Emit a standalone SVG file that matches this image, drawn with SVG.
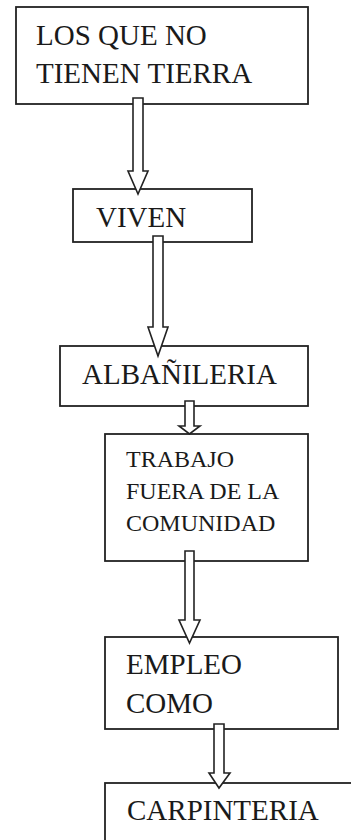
<svg xmlns="http://www.w3.org/2000/svg" width="351" height="840" viewBox="0 0 351 840">
<style>
.box{fill:#fff;stroke:#222;stroke-width:1.8}
.t{font-family:"Liberation Serif","Times New Roman",serif;font-size:29px;fill:#1a1a1a}
.s{font-size:24px}
.arr{fill:#fff;stroke:#222;stroke-width:1.6;stroke-linejoin:miter}
</style>
<rect width="351" height="840" fill="#fff"/>
<g id="n1"><rect class="box" x="16" y="7" width="292" height="97"/>
<text class="t" x="36" y="45">LOS QUE NO</text><text class="t" x="36" y="83">TIENEN TIERRA</text></g>
<g id="n2"><rect class="box" x="73" y="189" width="179" height="53"/>
<text class="t" x="96" y="227">VIVEN</text></g>
<g id="n3"><rect class="box" x="60" y="346" width="248" height="60"/>
<text class="t" x="82" y="384">ALBAÑILERIA</text></g>
<g id="n4"><rect class="box" x="105" y="434" width="203" height="127"/>
<text class="t s" x="126" y="467">TRABAJO</text><text class="t s" x="126" y="499">FUERA DE LA</text><text class="t s" x="126" y="531">COMUNIDAD</text></g>
<g id="n5"><rect class="box" x="105" y="637" width="233" height="92"/>
<text class="t" x="126" y="674">EMPLEO</text><text class="t" x="126" y="713">COMO</text></g>
<g id="n6"><rect class="box" x="105" y="783" width="270" height="90"/>
<text class="t" x="127" y="820">CARPINTERIA</text></g>
<g id="connectors">
<polygon class="arr" points="133,98 143,98 143,171 148,171 138,194 128,171 133,171"/>
<polygon class="arr" points="153,236 163,236 163,327 168,327 158,356 148,327 153,327"/>
<polygon class="arr" points="185,401 194,401 194,426 200,426 189.5,434 179,426 185,426"/>
<polygon class="arr" points="185,551 194,551 194,620 200,620 189.5,643 179,620 185,620"/>
<polygon class="arr" points="214,724 224,724 224,773 230,773 219,788 209,773 214,773"/>
</g>
</svg>
